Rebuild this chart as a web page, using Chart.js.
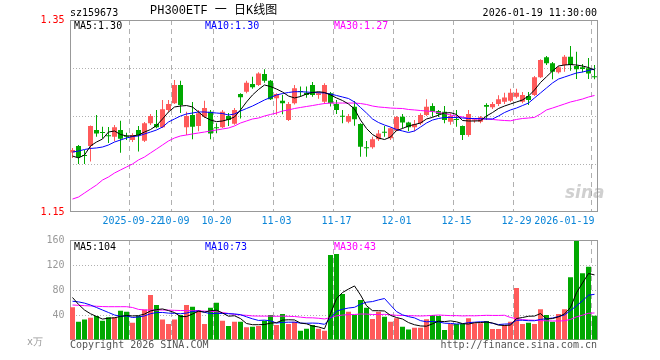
<!DOCTYPE html>
<html>
<head>
<meta charset="utf-8">
<title>PH300ETF 日K线图</title>
<script src="https://cdn.jsdelivr.net/npm/chart.js@4.4.1/dist/chart.umd.min.js"></script>
<style>
  body { margin: 0; background: #fff; }
  #wrap { position: relative; width: 660px; height: 360px; font: 10px 'DejaVu Sans Mono', monospace; }
  #wrap canvas { position: absolute; left: 0; top: 0; }
  .txt { position: absolute; white-space: pre; line-height: 12px; }
</style>
</head>
<body>
<div id="wrap">
  <canvas id="kChart" width="660" height="360"></canvas>
  <canvas id="volChart" width="660" height="360"></canvas>
  <div class="txt" style="left:70px; top:7px">sz159673</div>
  <div class="txt" style="left:150px; top:4px; font:12px 'Liberation Mono','Noto Sans CJK SC'; line-height:14px">PH300ETF 一 日K线图</div>
  <div class="txt" style="right:63px; top:7px">2026-01-19 11:30:00</div>
  <div class="txt" id="kMa5" style="left:74px; top:20px; color:#000"></div>
  <div class="txt" id="kMa10" style="left:205px; top:20px; color:#00f"></div>
  <div class="txt" id="kMa30" style="left:334px; top:20px; color:#f0f"></div>
  <div class="txt" id="vMa5" style="left:74px; top:241px; color:#000"></div>
  <div class="txt" id="vMa10" style="left:205px; top:241px; color:#00f"></div>
  <div class="txt" id="vMa30" style="left:334px; top:241px; color:#f0f"></div>
  <div class="txt" style="left:565px; top:182px; font:italic bold 17px 'DejaVu Sans'; line-height:20px; color:rgba(150,150,150,0.45)">sina</div>
  <div class="txt" style="left:27px; top:336px; color:#999">x万</div>
  <div class="txt" style="left:70px; top:339px; color:#555">Copyright 2026 SINA.COM</div>
  <div class="txt" style="right:63px; top:339px; color:#555">http://finance.sina.com.cn</div>
</div>
<script>
// trading days shown
const dates = [
  '2025-09-08','2025-09-09','2025-09-10','2025-09-11','2025-09-12',
  '2025-09-15','2025-09-16','2025-09-17','2025-09-18','2025-09-19',
  '2025-09-22','2025-09-23','2025-09-24','2025-09-25','2025-09-26',
  '2025-09-29','2025-09-30',
  '2025-10-09','2025-10-10',
  '2025-10-13','2025-10-14','2025-10-15','2025-10-16','2025-10-17',
  '2025-10-20','2025-10-21','2025-10-22','2025-10-23','2025-10-24',
  '2025-10-27','2025-10-28','2025-10-29','2025-10-30','2025-10-31',
  '2025-11-03','2025-11-04','2025-11-05','2025-11-06','2025-11-07',
  '2025-11-10','2025-11-11','2025-11-12','2025-11-13','2025-11-14',
  '2025-11-17','2025-11-18','2025-11-19','2025-11-20','2025-11-21',
  '2025-11-24','2025-11-25','2025-11-26','2025-11-27','2025-11-28',
  '2025-12-01','2025-12-02','2025-12-03','2025-12-04','2025-12-05',
  '2025-12-08','2025-12-09','2025-12-10','2025-12-11','2025-12-12',
  '2025-12-15','2025-12-16','2025-12-17','2025-12-18','2025-12-19',
  '2025-12-22','2025-12-23','2025-12-24','2025-12-25','2025-12-26',
  '2025-12-29','2025-12-30','2025-12-31',
  '2026-01-05','2026-01-06','2026-01-07','2026-01-08','2026-01-09',
  '2026-01-12','2026-01-13','2026-01-14','2026-01-15','2026-01-16',
  '2026-01-19'
];

const open = [
  1.2120,1.2187,1.2094,1.2187,1.2354,1.2330,1.2300,1.2285,1.2354,1.2290,
  1.2250,1.2354,1.2243,1.2424,1.2417,1.2382,1.2563,1.2632,1.2823,1.2382,
  1.2510,1.2396,1.2493,1.2545,1.2380,1.2382,1.2500,1.2420,1.2729,1.2753,
  1.2833,1.2823,1.2938,1.2868,1.2684,1.2660,1.2458,1.2632,1.2755,1.2743,
  1.2823,1.2719,1.2649,1.2736,1.2625,1.2500,1.2441,1.2597,1.2417,1.2170,
  1.2174,1.2257,1.2330,1.2267,1.2347,1.2493,1.2431,1.2382,1.2424,1.2510,
  1.2604,1.2552,1.2545,1.2441,1.2462,1.2396,1.2302,1.2452,1.2441,1.2615,
  1.2590,1.2625,1.2649,1.2660,1.2701,1.2649,1.2708,1.2719,1.2903,1.3111,
  1.3049,1.2955,1.3031,1.3118,1.3021,1.3007,1.2997,1.2910
];
const high = [
  1.2167,1.2198,1.2146,1.2400,1.2510,1.2389,1.2385,1.2406,1.2450,1.2325,
  1.2320,1.2396,1.2438,1.2521,1.2563,1.2667,1.2667,1.2875,1.2868,1.2545,
  1.2646,1.2563,1.2660,1.2563,1.2424,1.2563,1.2531,1.2583,1.2736,1.2868,
  1.2910,1.2955,1.2986,1.2875,1.2736,1.2722,1.2646,1.2823,1.2806,1.2806,
  1.2854,1.2750,1.2840,1.2750,1.2667,1.2562,1.2521,1.2656,1.2424,1.2240,
  1.2285,1.2354,1.2396,1.2380,1.2500,1.2521,1.2440,1.2458,1.2528,1.2674,
  1.2632,1.2563,1.2604,1.2528,1.2563,1.2400,1.2563,1.2480,1.2500,1.2632,
  1.2646,1.2715,1.2743,1.2785,1.2785,1.2750,1.2750,1.2917,1.3090,1.3125,
  1.3062,1.3021,1.3135,1.3229,1.3170,1.3042,1.3104,1.3031
];
const low = [
  1.2063,1.2000,1.2000,1.2025,1.2285,1.2267,1.2219,1.2236,1.2118,1.2250,
  1.2229,1.2130,1.2229,1.2406,1.2372,1.2375,1.2542,1.2625,1.2530,1.2302,
  1.2257,1.2340,1.2480,1.2257,1.2320,1.2375,1.2396,1.2410,1.2473,1.2736,
  1.2785,1.2813,1.2847,1.2667,1.2514,1.2517,1.2448,1.2620,1.2701,1.2690,
  1.2701,1.2680,1.2625,1.2600,1.2521,1.2424,1.2424,1.2399,1.2076,1.2076,
  1.2160,1.2240,1.2285,1.2250,1.2340,1.2372,1.2340,1.2340,1.2406,1.2500,
  1.2493,1.2490,1.2424,1.2410,1.2389,1.2250,1.2285,1.2430,1.2424,1.2458,
  1.2572,1.2604,1.2625,1.2646,1.2684,1.2632,1.2615,1.2708,1.2895,1.3030,
  1.2882,1.2944,1.2962,1.2972,1.2885,1.2955,1.2885,1.2882
];
const close = [
  1.2146,1.2073,1.2083,1.2396,1.2319,1.2322,1.2290,1.2382,1.2262,1.2283,
  1.2302,1.2302,1.2424,1.2500,1.2382,1.2570,1.2625,1.2823,1.2615,1.2500,
  1.2389,1.2528,1.2583,1.2319,1.2372,1.2545,1.2458,1.2563,1.2695,1.2847,
  1.2799,1.2944,1.2868,1.2674,1.2729,1.2632,1.2625,1.2788,1.2750,1.2719,
  1.2719,1.2736,1.2823,1.2632,1.2563,1.2493,1.2500,1.2465,1.2180,1.2163,
  1.2257,1.2319,1.2326,1.2372,1.2490,1.2431,1.2382,1.2417,1.2510,1.2597,
  1.2545,1.2521,1.2458,1.2500,1.2458,1.2302,1.2521,1.2462,1.2486,1.2597,
  1.2625,1.2674,1.2694,1.2743,1.2743,1.2719,1.2667,1.2903,1.3083,1.3049,
  1.2962,1.3007,1.3118,1.3031,1.2986,1.2990,1.2944,1.2903
];

// price moving averages as drawn
const ma5 = [
  1.2083,1.2063,1.2094,1.2188,1.2229,1.2260,1.2333,1.2344,1.2307,1.2292,
  1.2292,1.2302,1.2333,1.2359,1.2401,1.2469,1.2542,1.2594,1.2604,1.2609,
  1.2594,1.2542,1.2490,1.2458,1.2441,1.2448,1.2464,1.2490,1.2563,1.2646,
  1.2719,1.2776,1.2823,1.2807,1.2781,1.2750,1.2708,1.2688,1.2703,1.2729,
  1.2745,1.2753,1.2745,1.2719,1.2688,1.2661,1.2625,1.2573,1.2458,1.2370,
  1.2307,1.2271,1.2255,1.2281,1.2349,1.2370,1.2396,1.2411,1.2427,1.2469,
  1.2486,1.2510,1.2531,1.2535,1.2516,1.2453,1.2448,1.2448,1.2451,1.2500,
  1.2536,1.2578,1.2604,1.2625,1.2646,1.2667,1.2708,1.2771,1.2849,1.2909,
  1.2969,1.3021,1.3031,1.3036,1.3031,1.3021,1.3005,1.2979
];
const ma10 = [
  1.2125,1.2135,1.2151,1.2162,1.2167,1.2177,1.2198,1.2229,1.2250,1.2271,
  1.2286,1.2292,1.2313,1.2333,1.2354,1.2385,1.2438,1.2469,1.2500,1.2521,
  1.2531,1.2542,1.2542,1.2536,1.2531,1.2526,1.2510,1.2521,1.2552,1.2578,
  1.2604,1.2635,1.2667,1.2693,1.2719,1.2734,1.2745,1.2753,1.2753,1.2750,
  1.2745,1.2743,1.2740,1.2729,1.2714,1.2698,1.2682,1.2646,1.2589,1.2531,
  1.2469,1.2432,1.2406,1.2385,1.2359,1.2344,1.2328,1.2344,1.2385,1.2427,
  1.2458,1.2474,1.2484,1.2486,1.2484,1.2479,1.2474,1.2474,1.2472,1.2469,
  1.2469,1.2500,1.2536,1.2563,1.2583,1.2609,1.2635,1.2688,1.2740,1.2792,
  1.2844,1.2885,1.2906,1.2927,1.2948,1.2958,1.2974,1.2990
];
const ma30 = [
  1.1635,1.1656,1.1698,1.1740,1.1781,1.1833,1.1865,1.1906,1.1938,1.1969,
  1.2000,1.2042,1.2073,1.2115,1.2156,1.2198,1.2240,1.2271,1.2292,1.2302,
  1.2313,1.2323,1.2333,1.2344,1.2354,1.2365,1.2375,1.2396,1.2427,1.2448,
  1.2469,1.2479,1.2500,1.2516,1.2531,1.2552,1.2563,1.2578,1.2589,1.2599,
  1.2609,1.2620,1.2630,1.2635,1.2635,1.2635,1.2635,1.2635,1.2630,1.2620,
  1.2604,1.2594,1.2589,1.2583,1.2580,1.2578,1.2568,1.2563,1.2557,1.2552,
  1.2547,1.2536,1.2526,1.2510,1.2500,1.2490,1.2476,1.2469,1.2469,1.2469,
  1.2464,1.2458,1.2453,1.2450,1.2464,1.2474,1.2479,1.2486,1.2521,1.2563,
  1.2583,1.2604,1.2625,1.2646,1.2661,1.2677,1.2698,1.2714
];

// volume, 万手
const volume = [
  52.3,29.3,33.0,35.7,38.4,30.9,36.3,36.3,47.0,45.4,
  27.7,38.4,49.0,72.0,56.0,33.0,25.6,33.0,40.0,56.0,
  53.3,48.0,25.6,51.7,59.7,30.9,22.4,29.3,29.3,20.3,
  21.3,22.4,30.9,40.0,24.0,41.6,25.6,29.3,14.9,18.1,
  24.0,18.1,14.9,136.0,137.6,73.6,45.3,40.0,64.0,51.7,
  33.6,45.3,37.3,29.3,34.7,21.3,16.9,19.7,19.7,33.1,
  40.0,38.4,16.0,25.6,25.6,25.6,34.7,26.7,26.7,30.4,
  17.6,17.6,24.0,29.3,83.3,25.6,27.7,25.6,49.1,40.0,
  29.3,41.6,49.1,100.3,158.4,106.7,117.3,39.0
];
const vma5 = [
  68.0,57.0,48.0,42.0,37.7,33.5,34.9,35.5,37.8,39.2,
  38.5,39.0,41.5,46.5,48.6,49.7,47.1,43.9,37.5,37.5,
  41.6,46.1,44.6,46.9,47.7,43.2,38.1,38.8,34.3,26.4,
  24.5,24.5,24.8,27.0,27.7,31.8,32.4,32.1,27.1,25.9,
  22.4,20.9,18.0,42.2,66.1,76.0,81.5,86.5,72.1,54.9,
  46.9,46.9,46.4,39.4,36.0,33.6,27.9,24.4,22.5,22.1,
  25.9,30.2,29.4,30.6,29.1,26.2,25.5,27.6,27.9,28.8,
  27.2,23.8,23.3,23.8,34.4,36.0,38.0,38.3,42.3,33.6,
  34.3,37.1,41.8,52.1,75.7,91.2,106.4,104.2
];
const vma10 = [
  62.0,61.0,59.0,56.0,52.0,48.0,44.0,40.0,38.0,38.5,
  36.0,36.9,38.5,42.1,43.9,44.1,43.0,42.7,42.0,43.1,
  45.6,46.6,44.3,42.2,42.6,42.4,42.1,41.7,40.6,37.1,
  33.9,31.3,31.8,30.7,27.1,28.2,28.5,28.5,27.0,26.8,
  27.1,26.7,25.1,34.7,46.0,49.2,51.2,52.3,57.2,60.5,
  61.5,64.2,66.4,55.8,45.5,40.3,37.4,35.4,31.0,29.1,
  29.7,29.0,26.9,26.5,25.6,26.1,27.8,28.5,29.2,29.0,
  26.7,24.7,25.5,25.8,31.6,31.6,30.9,30.8,33.0,34.0,
  35.2,37.6,40.1,47.2,54.7,62.8,71.7,73.1
];
const vma30 = [
  56.0,55.5,55.0,54.5,54.0,53.5,53.3,53.3,53.3,53.3,
  52.0,49.0,48.0,48.0,48.0,48.0,47.8,47.5,47.2,47.0,
  46.9,46.6,46.2,45.8,45.3,44.0,42.5,41.0,40.0,39.5,
  38.5,38.3,38.2,38.3,37.9,38.2,37.9,37.6,36.6,35.6,
  35.5,34.8,33.7,35.8,38.6,39.9,40.6,40.8,41.6,41.5,
  40.8,40.7,41.1,40.4,39.5,39.2,39.0,38.7,38.4,38.8,
  39.4,40.0,39.5,39.0,39.0,38.5,38.8,38.7,39.1,39.5,
  39.3,39.3,39.6,36.0,34.2,32.6,32.0,31.6,31.1,30.7,
  30.5,30.4,30.8,33.0,37.0,39.7,42.8,43.3
];

// axis labels
const xTicks = ['2025-09-22','2025-10-09','2025-10-20','2025-11-03','2025-11-17','2025-12-01','2025-12-15','2025-12-29','2026-01-19'];
const xTickText = ['2025-09-22','10-09','10-20','11-03','11-17','12-01','12-15','12-29','2026-01-19'];
const priceTicks = [1.15, 1.35];
const volTicks = [40, 80, 120, 160];

const RED = '#ff5a5a';
const GREEN = '#00a800';
const candleColors = close.map((c, i) => (c >= open[i] ? RED : GREEN));
const monoFont = { family: "'DejaVu Sans Mono', monospace", size: 10 };

// MA captions
document.getElementById('kMa5').textContent = 'MA5:' + ma5[ma5.length - 1].toFixed(2);
document.getElementById('kMa10').textContent = 'MA10:' + ma10[ma10.length - 1].toFixed(2);
document.getElementById('kMa30').textContent = 'MA30:' + ma30[ma30.length - 1].toFixed(2);
document.getElementById('vMa5').textContent = 'MA5:' + Math.round(vma5[vma5.length - 1]);
document.getElementById('vMa10').textContent = 'MA10:' + Math.round(vma10[vma10.length - 1]);
document.getElementById('vMa30').textContent = 'MA30:' + Math.round(vma30[vma30.length - 1]);

// grey box round each plot
const framePlugin = {
    id: 'frame',
    beforeDatasetsDraw(chart) {
        const a = chart.chartArea, ctx = chart.ctx;
        const l = Math.round(a.left) + 0.5, r = Math.round(a.right) - 0.5;
        const t = Math.round(a.top) + 0.5, b = Math.round(a.bottom) - 0.5;
        ctx.save();
        ctx.strokeStyle = '#999';
        ctx.lineWidth = 1;
        ctx.strokeRect(l, t, r - l, b - t);
        ctx.restore();
    }
};

function maLine(label, data, color) {
    return {
        type: 'line', label: label, data: data,
        borderColor: color, borderWidth: 1,
        pointRadius: 0, fill: false, tension: 0, order: 0
    };
}

function xAxis(showLabels) {
    return {
        type: 'category',
        offset: true,
        grid: {
            offset: true,
            drawTicks: false,
            lineWidth: 1,
            color: ctx => (ctx.index !== undefined && xTicks.includes(dates[ctx.index])) ? '#b0b0b0' : 'rgba(0,0,0,0)'
        },
        border: { display: false, dash: [5, 4] },
        ticks: {
            display: showLabels,
            autoSkip: false,
            maxRotation: 0,
            minRotation: 0,
            padding: 3,
            color: '#0a85d8',
            font: monoFont,
            callback: function (value, index) {
                const k = xTicks.indexOf(dates[index]);
                if (k < 0) return '';
                // last label sits left of its grid line
                return k === xTicks.length - 1 ? xTickText[k] + ' '.repeat(10) : xTickText[k];
            }
        },
        afterFit: s => { s.height = showLabels ? 22 : 0; }
    };
}

function yAxis(min, max, step, shown, color) {
    return {
        min: min, max: max,
        grid: {
            drawTicks: false,
            color: ctx => (ctx.tick && ctx.tick.value > min + step / 10 && ctx.tick.value < max - step / 10) ? '#b0b0b0' : 'rgba(0,0,0,0)'
        },
        border: { display: false, dash: [1, 2] },
        ticks: {
            stepSize: step,
            padding: 5,
            color: color,
            font: monoFont,
            callback: v => {
                const hit = shown.find(s => Math.abs(s - v) < step / 10);
                return hit === undefined ? '' : (step < 1 ? hit.toFixed(2) : String(hit));
            }
        },
        afterFit: s => { s.width = 69.5; }
    };
}

const common = {
    responsive: false,
    animation: false,
    events: [],
    plugins: { legend: { display: false }, tooltip: { enabled: false } }
};

new Chart(document.getElementById('kChart'), {
    type: 'bar',
    data: {
        labels: dates,
        datasets: [
            maLine('MA5', ma5, '#000000'),
            maLine('MA10', ma10, '#0000ff'),
            maLine('MA30', ma30, '#ff00ff'),
            {
                label: 'body',
                data: open.map((o, i) => [Math.min(o, close[i]), Math.max(o, close[i])]),
                backgroundColor: candleColors,
                barThickness: 5, minBarLength: 1, grouped: false, inflateAmount: 0, order: 1
            },
            {
                label: 'wick',
                data: low.map((l, i) => [l, high[i]]),
                backgroundColor: candleColors,
                barThickness: 1, grouped: false, inflateAmount: 0, order: 2
            }
        ]
    },
    options: Object.assign({}, common, {
        layout: { padding: { left: 0, right: 62.5, top: 20, bottom: 126 } },
        scales: {
            x: xAxis(true),
            y: yAxis(1.15, 1.35, 0.05, priceTicks, '#ff0000')
        }
    }),
    plugins: [framePlugin]
});

new Chart(document.getElementById('volChart'), {
    type: 'bar',
    data: {
        labels: dates,
        datasets: [
            maLine('MA5', vma5, '#000000'),
            maLine('MA10', vma10, '#0000ff'),
            maLine('MA30', vma30, '#ff00ff'),
            {
                label: 'volume',
                data: volume,
                backgroundColor: candleColors,
                barThickness: 5, grouped: false, inflateAmount: 0, order: 1
            }
        ]
    },
    options: Object.assign({}, common, {
        layout: { padding: { left: 0, right: 62.5, top: 240, bottom: 20 } },
        scales: {
            x: xAxis(false),
            y: yAxis(0, 160, 40, volTicks, '#999999')
        }
    }),
    plugins: [framePlugin]
});
</script>
</body>
</html>
